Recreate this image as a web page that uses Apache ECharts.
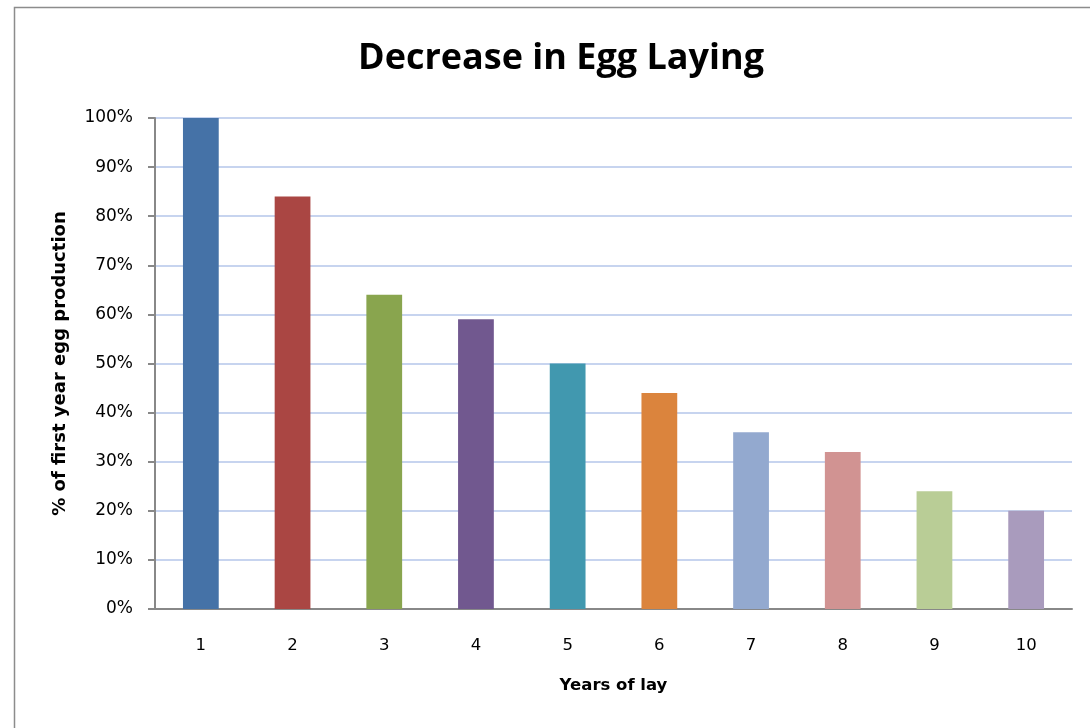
<!DOCTYPE html>
<html><head><meta charset="utf-8">
<script src="https://cdn.jsdelivr.net/npm/echarts@6/dist/echarts.min.js"></script>
<style>html,body{margin:0;padding:0;background:#fff}#c{width:1090px;height:728px}</style>
</head><body><div id="c"></div>
<script>
const categories = ['1','2','3','4','5','6','7','8','9','10'];
const values = [100, 84, 64, 59, 50, 44, 36, 32, 24, 20];
const barColors = ['#4572a7','#aa4643','#89a54e','#71588f','#4198af','#db843d','#93a9cf','#d19392','#b9cd96','#a99bbd'];
const yTicks = [0,10,20,30,40,50,60,70,80,90,100];

const chart = echarts.init(document.getElementById('c'));
chart.setOption({
  animation: false,
  backgroundColor: '#fff',
  graphic: [{type:'rect', shape:{x:14.5,y:7.5,width:1090,height:740}, style:{fill:'none',stroke:'#8c8c8c',lineWidth:1.5}, z:-1}],
  title: {text:'Decrease in Egg Laying', left:556, top:36, textAlign:'center',
    textStyle:{fontFamily:'Open Sans', fontWeight:'bold', fontSize:36, color:'#000'}},
  grid: {left:155, top:118, right:18, bottom:119},
  xAxis: {type:'category', data:categories, name:'Years of lay', nameLocation:'middle', nameGap:68,
    nameTextStyle:{fontFamily:'DejaVu Sans', fontWeight:'bold', fontSize:16.5, color:'#000'},
    axisLine:{lineStyle:{color:'#888', width:2}}, axisTick:{length:7, lineStyle:{color:'#888', width:2}},
    axisLabel:{fontFamily:'DejaVu Sans', fontSize:16.5, color:'#000', margin:28}},
  yAxis: {type:'value', min:0, max:100, interval:10, name:'% of first year egg production', nameLocation:'middle', nameGap:86,
    nameTextStyle:{fontFamily:'DejaVu Sans', fontWeight:'bold', fontSize:18, color:'#000'},
    axisLine:{show:true, lineStyle:{color:'#888', width:2}}, axisTick:{show:true, length:7, lineStyle:{color:'#888', width:2}},
    axisLabel:{fontFamily:'DejaVu Sans', fontSize:17, color:'#000', margin:22, formatter: v => yTicks.includes(v) ? v+'%' : ''},
    splitLine:{lineStyle:{color:'#b4c6ea', width:1.5}}},
  series: [{type:'bar', barWidth:'39%',
    data: values.map((v,i)=>({value:v, itemStyle:{color:barColors[i]}}))}]
});
</script></body></html>
